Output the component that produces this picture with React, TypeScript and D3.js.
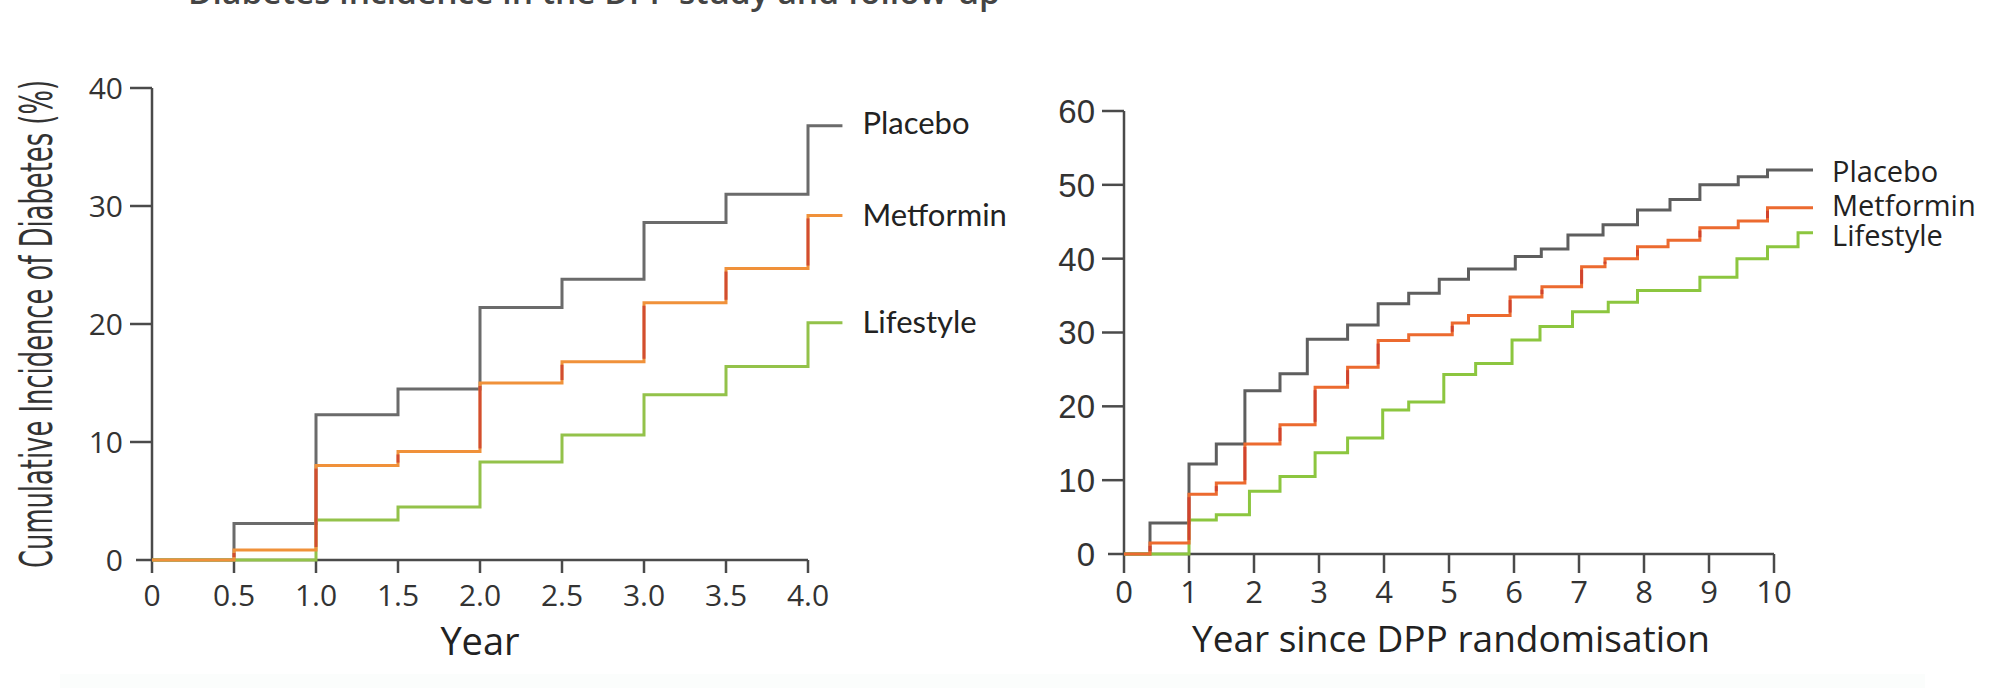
import React from 'react';
import * as d3 from 'd3';

// Left panel: DPP, years 0-4
const leftYears = [0, 0.5, 1.0, 1.5, 2.0, 2.5, 3.0, 3.5, 4.0, 4.21];
const leftPlacebo = [0, 3.1, 12.3, 14.5, 21.4, 23.8, 28.6, 31.0, 36.8, 36.8];
const leftMetformin = [0, 0.85, 8.0, 9.2, 15.0, 16.8, 21.8, 24.7, 29.2, 29.2];
const leftLifestyle = [0, 0, 3.4, 4.5, 8.3, 10.6, 14.0, 16.4, 20.1, 20.1];
const leftXTicks = [0, 0.5, 1.0, 1.5, 2.0, 2.5, 3.0, 3.5, 4.0];
const leftYTicks = [0, 10, 20, 30, 40];

// Right panel: DPP + DPPOS, years 0-10
const rightPlaceboT = [0, 0.4, 1.0, 1.42, 1.86, 2.4, 2.82, 3.44, 3.91, 4.38, 4.85, 5.3, 6.02, 6.42, 6.83, 7.37, 7.9, 8.4, 8.86, 9.45, 9.9, 10.6];
const rightPlaceboV = [0, 4.2, 12.2, 14.9, 22.1, 24.4, 29.1, 31.0, 33.9, 35.3, 37.2, 38.6, 40.3, 41.3, 43.2, 44.6, 46.6, 48.0, 50.0, 51.1, 52.0, 52.0];
const rightMetforminT = [0, 0.4, 1.0, 1.42, 1.86, 2.4, 2.94, 3.44, 3.91, 4.38, 5.05, 5.3, 5.94, 6.43, 7.04, 7.4, 7.9, 8.37, 8.86, 9.45, 9.9, 10.6];
const rightMetforminV = [0, 1.5, 8.1, 9.6, 14.9, 17.5, 22.6, 25.3, 28.9, 29.7, 31.3, 32.3, 34.8, 36.2, 38.9, 40.0, 41.6, 42.5, 44.2, 45.1, 46.9, 46.9];
const rightLifestyleT = [0, 1.0, 1.42, 1.93, 2.4, 2.94, 3.44, 3.98, 4.38, 4.92, 5.41, 5.97, 6.4, 6.9, 7.45, 7.9, 8.86, 9.43, 9.9, 10.37, 10.6];
const rightLifestyleV = [0, 4.6, 5.3, 8.5, 10.5, 13.7, 15.7, 19.5, 20.6, 24.3, 25.8, 29.0, 30.8, 32.8, 34.1, 35.7, 37.5, 40.0, 41.6, 43.5, 43.5];
const rightXTicks = [0, 1, 2, 3, 4, 5, 6, 7, 8, 9, 10];
const rightYTicks = [0, 10, 20, 30, 40, 50, 60];

const groups = ['Placebo', 'Metformin', 'Lifestyle'];

const W = 1992;
const H = 688;
const AXIS = '#4a4a4a';

type Series = { name: string; t: number[]; v: number[]; color: string; vcolor?: string; labelDy: number };

const StepPanel = ({ x, y, series, xTicks, yTicks, xFmt, tickLen, xTickLen, xFont, yFont, xTickSize, yTickSize, xTickBase, legendFont, legendSize, legendDx }) => {
  const line = d3.line<[number, number]>()
    .x(d => x(d[0]))
    .y(d => y(d[1]))
    .curve(d3.curveStepAfter);
  const [x0] = x.range();
  const [y0, y1] = y.range();
  const xEnd = x(x.domain()[1]);

  return (
    <g>
      {/* axes */}
      <line x1={x0} y1={y1} x2={x0} y2={y0} stroke={AXIS} strokeWidth={2.5} />
      <line x1={x0 - tickLen + 6} y1={y0} x2={xEnd} y2={y0} stroke={AXIS} strokeWidth={2.5} />
      {yTicks.map(t => (
        <g key={t}>
          {t !== 0 && <line x1={x0 - tickLen} x2={x0} y1={y(t)} y2={y(t)} stroke={AXIS} strokeWidth={2.5} />}
          <text x={x0 - tickLen - 7} y={y(t)} dy="0.36em" textAnchor="end" fontFamily={yFont} fontSize={yTickSize} fill="#333">{t}</text>
        </g>
      ))}
      {xTicks.map(t => (
        <g key={t}>
          <line x1={x(t)} x2={x(t)} y1={y0} y2={y0 + xTickLen} stroke={AXIS} strokeWidth={2.5} />
          <text x={x(t)} y={xTickBase} textAnchor="middle" fontFamily={xFont} fontSize={xTickSize} fill="#333">{xFmt(t)}</text>
        </g>
      ))}

      {/* step lines */}
      {series.map((s: Series) => (
        <g key={s.name}>
          <path d={line(s.t.map((t, i) => [t, s.v[i]]))} fill="none" stroke={s.color} strokeWidth={3} />
          {s.vcolor && s.t.slice(1, -1).map((t, i) => (
            Math.abs(y(s.v[i]) - y(s.v[i + 1])) > 8 ? (
              <line key={i} x1={x(t)} x2={x(t)} y1={y(s.v[i]) - 3} y2={y(s.v[i + 1]) + 3} stroke={s.vcolor} strokeWidth={3} opacity={0.75} />
            ) : null
          ))}
        </g>
      ))}

      {/* end labels */}
      {series.map((s: Series) => (
        <text key={s.name} x={x(s.t[s.t.length - 1]) + legendDx} y={y(s.v[s.v.length - 1]) + s.labelDy}
          fontFamily={legendFont} fontSize={legendSize} fill="#222">{s.name}</text>
      ))}
    </g>
  );
};

export default function App() {
  const xL = d3.scaleLinear().domain([0, 4]).range([152, 808]);
  const yL = d3.scaleLinear().domain([0, 40]).range([560, 88]);
  const xR = d3.scaleLinear().domain([0, 10]).range([1124, 1774]);
  const yR = d3.scaleLinear().domain([0, 60]).range([554, 111]);

  const leftSeries: Series[] = [
    { name: groups[0], t: leftYears, v: leftPlacebo, color: '#6b6b6b', labelDy: 8 },
    { name: groups[1], t: leftYears, v: leftMetformin, color: '#f0913a', vcolor: '#c8372d', labelDy: 11 },
    { name: groups[2], t: leftYears, v: leftLifestyle, color: '#93c24a', labelDy: 10 },
  ];
  // draw order: placebo, lifestyle, metformin on top
  const leftDraw = [leftSeries[0], leftSeries[2], leftSeries[1]];

  const rightSeries: Series[] = [
    { name: groups[0], t: rightPlaceboT, v: rightPlaceboV, color: '#5e5e5e', labelDy: 12 },
    { name: groups[1], t: rightMetforminT, v: rightMetforminV, color: '#ec6a2f', vcolor: '#c8372d', labelDy: 8 },
    { name: groups[2], t: rightLifestyleT, v: rightLifestyleV, color: '#8cc63f', labelDy: 13 },
  ];
  const rightDraw = [rightSeries[0], rightSeries[2], rightSeries[1]];

  return (
    <svg width={W} height={H} style={{ position: 'absolute', left: 0, top: 0, background: '#fff' }}>
      <rect x={0} y={0} width={W} height={H} fill="#fff" />
      <rect x={60} y={674} width={1865} height={14} fill="#fbfdfc" />

      {/* title line, almost entirely cut off at the top edge */}
      <text x={188} y={4} fontFamily="Open Sans" fontWeight={600} fontSize={32} fill="#444" textLength={812} lengthAdjust="spacingAndGlyphs">
        Diabetes incidence in the DPP study and follow-up
      </text>

      <StepPanel x={xL} y={yL} series={leftDraw} xTicks={leftXTicks} yTicks={leftYTicks}
        xFmt={(t: number) => (t === 0 ? '0' : d3.format('.1f')(t))}
        tickLen={22} xTickLen={13} xFont="Open Sans" yFont="Open Sans" xTickSize={30} yTickSize={30} xTickBase={606}
        legendFont="Lato" legendSize={31} legendDx={20} />
      <text transform="translate(52,324) rotate(-90)" textAnchor="middle" fontFamily="'Liberation Sans Narrow', 'DejaVu Sans Condensed', sans-serif"
        fontSize={44} fill="#333" textLength={488} lengthAdjust="spacingAndGlyphs">
        Cumulative Incidence of Diabetes (%)
      </text>
      <text x={xL(2)} y={655} textAnchor="middle" fontFamily="Open Sans" fontSize={38} fill="#222">Year</text>

      <StepPanel x={xR} y={yR} series={rightDraw} xTicks={rightXTicks} yTicks={rightYTicks}
        xFmt={(t: number) => String(t)}
        tickLen={22} xTickLen={19} xFont="Open Sans" yFont="Liberation Sans" xTickSize={31} yTickSize={33} xTickBase={603}
        legendFont="Open Sans" legendSize={29} legendDx={19} />
      <text x={1451} y={652} textAnchor="middle" fontFamily="Open Sans" fontSize={37} fill="#222">Year since DPP randomisation</text>
    </svg>
  );
}
